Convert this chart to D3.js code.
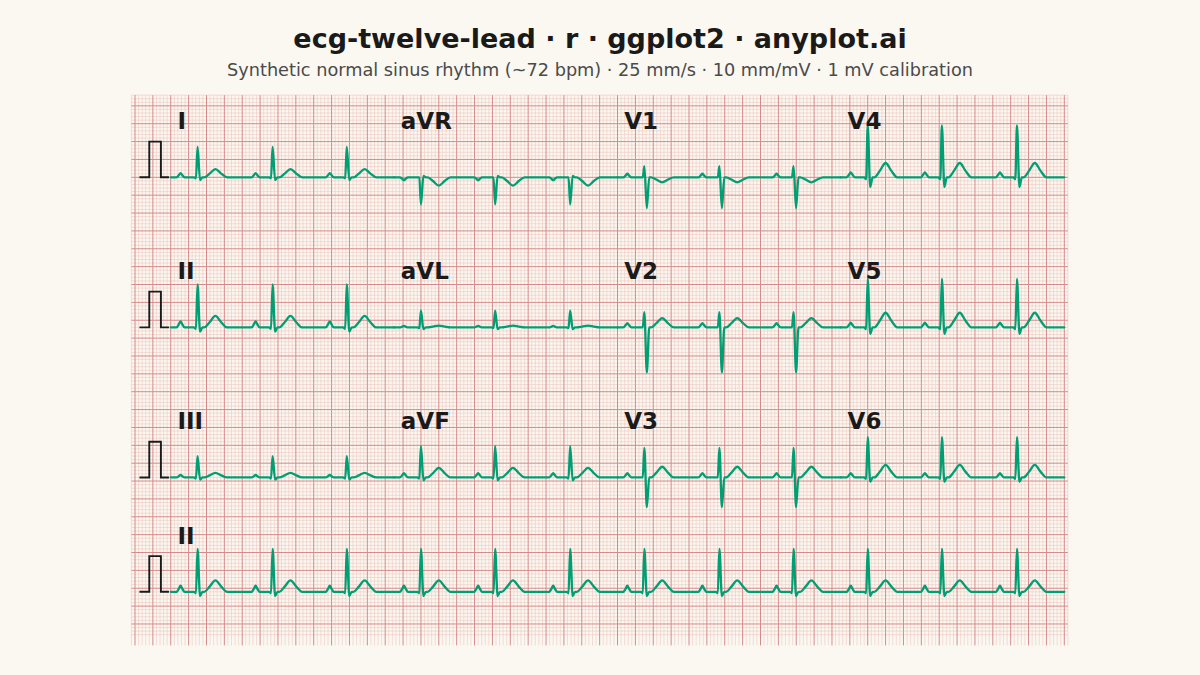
<!DOCTYPE html>
<html>
<head>
<meta charset="utf-8">
<script src="https://cdn.jsdelivr.net/npm/d3@7"></script>
<style>
html,body{margin:0;padding:0;background:#FAF8F1;}
svg{display:block;}
</style>
</head>
<body>
<svg id="chart" width="1200" height="675"></svg>
<script>
// ---------- data ----------
const leadNames = ["I","II","III","aVR","aVL","aVF","V1","V2","V3","V4","V5","V6"];
// wave amplitudes in mV
const pAmp = [0.12, 0.17, 0.07, -0.08, 0.04, 0.12, 0.10, 0.12, 0.12, 0.14, 0.13, 0.12];
const qAmp = [-0.03,-0.04,-0.03, 0.00,-0.02,-0.03, 0.00, 0.00, 0.00,-0.05,-0.05,-0.04];
const rAmp = [0.85, 1.20, 0.60, -0.76, 0.47, 0.88, 0.31, 0.43, 0.83, 1.45, 1.36, 1.13];
const sAmp = [-0.08,-0.12,-0.06, 0.04,-0.05,-0.08,-0.86,-1.26,-0.83,-0.27,-0.18,-0.12];
const tAmp = [0.23, 0.32, 0.13, -0.23, 0.05, 0.27, -0.14, 0.26, 0.30, 0.40, 0.41, 0.35];
// R-peak times (s)
const beatTimes = [0.30, 1.14, 1.97, 2.80, 3.63, 4.47, 5.30, 6.14, 6.97, 7.80, 8.63, 9.47];
// beat template: offset from R peak (s), wave, fraction of that wave's amplitude
const templateOffsets = [-0.235,-0.21,-0.19,-0.17,-0.145,-0.04,-0.018,0,0.028,0.055,0.075,0.135,0.2,0.265,0.33];
const templateWave    = ["0","P","P","P","0","0","Q","R","S","0","0","T","T","T","0"];
const templateFrac    = [0,0.5,1,0.5,0,0,1,1,1,0,0,0.45,1,0.45,0];
// 1 mV calibration pulse (time s, mV)
const calT = [-0.35,-0.24,-0.24,-0.11,-0.11,-0.02];
const calV = [0,0,1,1,0,0];
// layout of leads
const layoutRows = [["I","aVR","V1","V4"],["II","aVL","V2","V5"],["III","aVF","V3","V6"]];
const rhythmLead = "II";
const columnSeconds = 2.5;
const stripSeconds = 10;

// ---------- geometry ----------
const rowOffsets = [0, -4.2, -8.4, -11.6];
const svg = d3.select("#chart");
const W = 1200, H = 675;
svg.append("rect").attr("width",W).attr("height",H).attr("fill","#FAF8F1");

const x = d3.scaleLinear().domain([-0.4, 10]).range([135, 1064.3]);
const y = d3.scaleLinear().domain([2.2, -12.8]).range([98.7, 634.7]);

const gx0 = -0.44, gx1 = 10.04, gyTop = 2.3, gyBot = -12.8, vBot = -13.1;

// grid
const gGrid = svg.append("g");
const minorV = d3.range(Math.round(gx0*25), Math.round(gx1*25)+1).map(k=>k/25);
const minorH = d3.range(Math.round(gyBot*10), Math.round(gyTop*10)+1).map(k=>k/10);
const isMajorV = v => Math.abs(Math.round(v*5) - v*5) < 1e-6;
const isMajorH = v => Math.abs(Math.round(v*2) - v*2) < 1e-6;
const minorCol = "#EFC8C1", majorCol = "#D68A8A";

gGrid.selectAll("line.mv").data(minorV.filter(v=>!isMajorV(v))).join("line")
  .attr("x1",d=>x(d)).attr("x2",d=>x(d)).attr("y1",y(gyTop)).attr("y2",y(vBot))
  .attr("stroke",minorCol).attr("stroke-width",0.6);
gGrid.selectAll("line.mh").data(minorH.filter(v=>!isMajorH(v))).join("line")
  .attr("y1",d=>y(d)).attr("y2",d=>y(d)).attr("x1",x(gx0)).attr("x2",x(gx1))
  .attr("stroke",minorCol).attr("stroke-width",0.6);
gGrid.append("g").selectAll("line").data(minorV.filter(isMajorV)).join("line")
  .attr("x1",d=>x(d)).attr("x2",d=>x(d)).attr("y1",y(gyTop)).attr("y2",y(vBot))
  .attr("stroke",majorCol).attr("stroke-width",1);
gGrid.append("g").selectAll("line").data(minorH.filter(isMajorH)).join("line")
  .attr("y1",d=>y(d)).attr("y2",d=>y(d)).attr("x1",x(gx0)).attr("x2",x(gx1))
  .attr("stroke",majorCol).attr("stroke-width",1);

// traces
function leadPoints(name, t0, t1){
  const i = leadNames.indexOf(name);
  const amps = {"0":0, P:pAmp[i], Q:qAmp[i], R:rAmp[i], S:sAmp[i], T:tAmp[i]};
  const pts = [[t0,0]];
  beatTimes.forEach(tb=>{
    templateOffsets.forEach((dt,k)=>{
      const t = tb+dt;
      if(t>t0 && t<t1) pts.push([t, amps[templateWave[k]]*templateFrac[k]]);
    });
  });
  pts.push([t1,0]);
  return pts;
}
const gTr = svg.append("g");
const gLab = svg.append("g");
function drawTrace(pts, off){
  const line = d3.line().x(d=>x(d[0])).y(d=>y(d[1]+off)).curve(d3.curveMonotoneX);
  gTr.append("path").attr("d",line(pts)).attr("fill","none")
    .attr("stroke","#009E73").attr("stroke-width",2.3).attr("stroke-linejoin","round").attr("stroke-linecap","round");
}
function drawCal(off){
  const line = d3.line().x((d,i)=>x(calT[i])).y((d,i)=>y(calV[i]+off));
  gTr.append("path").attr("d",line(calT)).attr("fill","none")
    .attr("stroke","#1A1A1A").attr("stroke-width",1.9).attr("stroke-linejoin","miter");
}
function drawLabel(txt, t, off){
  gLab.append("text").attr("x",x(t)).attr("y",y(off+1.35)).text(txt)
    .attr("font-family","DejaVu Sans").attr("font-weight","bold").attr("font-size",23)
    .attr("fill","#1A1A1A");
}
layoutRows.forEach((row,r)=>{
  const off = rowOffsets[r];
  drawCal(off);
  row.forEach((name,c)=>{
    const t0 = c*columnSeconds, t1 = (c+1)*columnSeconds;
    drawTrace(leadPoints(name,t0,t1), off);
    drawLabel(name, t0+0.075, off);
  });
});
drawCal(rowOffsets[3]);
drawTrace(leadPoints(rhythmLead,0,stripSeconds), rowOffsets[3]);
drawLabel(rhythmLead, 0.075, rowOffsets[3]);

// titles
svg.append("text").attr("x",600).attr("y",48).attr("text-anchor","middle")
  .attr("font-family","DejaVu Sans").attr("font-weight","bold").attr("font-size",27)
  .attr("fill","#1A1A1A").text("ecg-twelve-lead · r · ggplot2 · anyplot.ai");
svg.append("text").attr("x",600).attr("y",76).attr("text-anchor","middle")
  .attr("font-family","DejaVu Sans").attr("font-size",17.7)
  .attr("fill","#4A4A4A").text("Synthetic normal sinus rhythm (~72 bpm) · 25 mm/s · 10 mm/mV · 1 mV calibration");
</script>
</body>
</html>
